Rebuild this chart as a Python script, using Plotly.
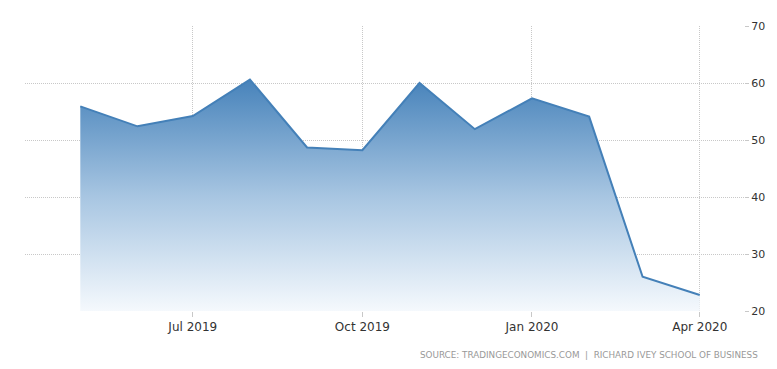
import plotly.graph_objects as go

dates = ["2019-05-01", "2019-06-01", "2019-07-01", "2019-08-01", "2019-09-01", "2019-10-01",
         "2019-11-01", "2019-12-01", "2020-01-01", "2020-02-01", "2020-03-01", "2020-04-01"]
values = [55.9, 52.4, 54.2, 60.6, 48.7, 48.2, 60.0, 51.9, 57.3, 54.1, 26.0, 22.8]
tick_dates = ["2019-07-01", "2019-10-01", "2020-01-01", "2020-04-01"]
tick_labels = ["Jul 2019", "Oct 2019", "Jan 2020", "Apr 2020"]
y_ticks = [20, 30, 40, 50, 60, 70]
source_text = "SOURCE: TRADINGECONOMICS.COM  |  RICHARD IVEY SCHOOL OF BUSINESS"

fig = go.Figure()
fig.add_trace(go.Scatter(
    x=dates, y=values, mode="lines", fill="tozeroy",
    line=dict(color="rgb(68,128,184)", width=2),
    fillgradient=dict(type="vertical",
                      colorscale=[[0, "rgba(248,251,254,1)"], [0.5, "rgb(168,198,226)"], [1, "rgb(70,130,186)"]],
                      start=20, stop=61),
    hoverinfo="skip",
))

fig.update_layout(
    width=769, height=361,
    margin=dict(l=17, r=32, t=13, b=58),
    paper_bgcolor="white", plot_bgcolor="white",
    showlegend=False,
    font=dict(family="DejaVu Sans", size=11, color="#333333"),
    xaxis=dict(
        type="date", range=["2019-04-01", "2020-04-25"],
        tickvals=tick_dates, ticktext=tick_labels,
        showgrid=True, gridcolor="#c8c8c8", griddash="1px,1px", gridwidth=1,
        ticks="outside", ticklen=5, tickcolor="#c8c8c8",
        zeroline=False, showline=False,
        tickfont=dict(family="DejaVu Sans", size=12, color="#333333"),
    ),
    yaxis=dict(
        range=[20, 70], side="right", tickvals=y_ticks,
        showgrid=True, gridcolor="#c8c8c8", griddash="1px,1px", gridwidth=1,
        ticks="outside", ticklen=4, tickcolor="#c8c8c8",
        zeroline=False, showline=False,
        tickfont=dict(family="DejaVu Sans", size=11, color="#333333"),
    ),
    annotations=[dict(
        text=source_text, xref="paper", yref="paper",
        x=1.022, y=-0.155, xanchor="right", yanchor="middle",
        showarrow=False, font=dict(family="DejaVu Sans", size=8.8, color="#999999"),
    )],
)

fig.write_html("out.html")
